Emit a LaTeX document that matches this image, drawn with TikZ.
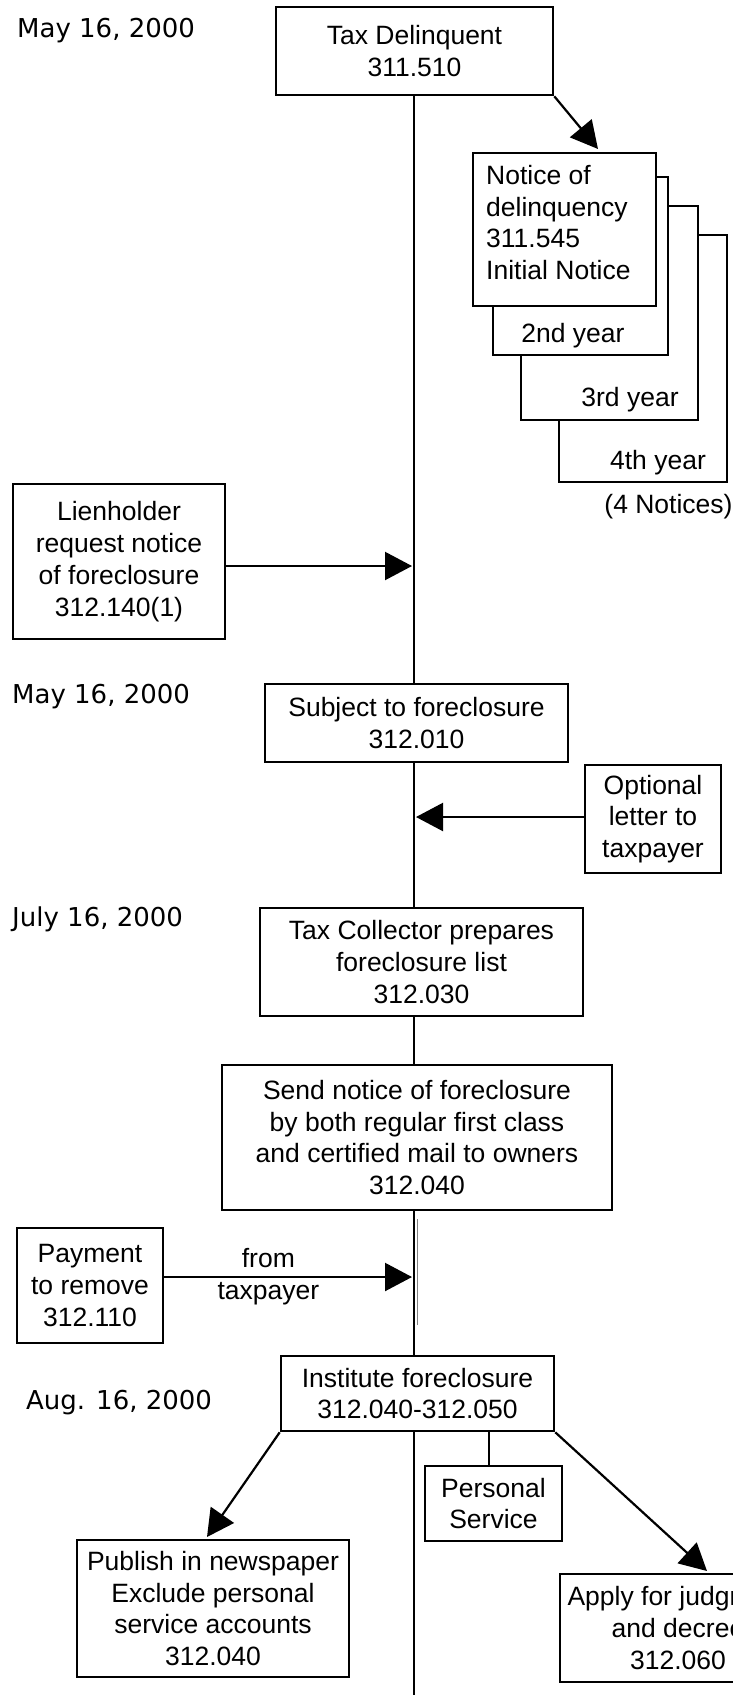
\documentclass[tikz,border=0pt]{standalone}
\usepackage{fontspec}
\setmainfont{Liberation Sans}
\newfontfamily\datefont{DejaVu Sans}
\usetikzlibrary{arrows.meta}
\begin{document}
\begin{tikzpicture}[x=1pt,y=-1pt,
  box/.style={draw, line width=2.6pt, fill=white, align=center, inner sep=0pt, font=\fontsize{26.5}{31.8}\selectfont},
  lbl/.style={align=center, inner sep=0pt, font=\fontsize{26.5}{31.8}\selectfont},
  datelbl/.style={anchor=base west, inner sep=0pt, font=\datefont\fontsize{26}{30}\selectfont},
  conn/.style={line width=2.2pt},
  arr/.style={line width=2.2pt, -{Triangle[length=27pt,width=28pt]}},
]
\useasboundingbox (0,0) rectangle (733,1695);
\fill[white] (0,0) rectangle (733,1695);

% dates
\node[datelbl] (d1) at (17,37) {May 16, 2000};
\node[datelbl] (d2) at (12,703) {May 16, 2000};
\node[datelbl] (d3) at (12,926) {July 16, 2000};
\node[datelbl] (d4) at (26,1409) {Aug. 16, 2000};

% main boxes
\node[box, minimum width=277pt, minimum height=88pt] (taxdel) at (414.5,51) {Tax Delinquent\\311.510};

\node[box, minimum width=168pt, minimum height=247pt] (n4) at (643,358.5) {};
\node[box, minimum width=177pt, minimum height=214pt] (n3) at (609.5,313) {};
\node[box, minimum width=175pt, minimum height=178pt] (n2) at (580.5,266) {};
\node[box, minimum width=183pt, minimum height=153pt] (n1) at (564.5,229.5) {};
\node[lbl, anchor=west, align=left] (n1t) at (486,222.5) {Notice of\\delinquency\\311.545\\Initial Notice};
\node[lbl] (n2t) at (573,336) {2nd year};
\node[lbl] (n3t) at (630,400) {3rd year};
\node[lbl] (n4t) at (658,463) {4th year};
\node[lbl] (notices) at (668.5,507) {(4 Notices)};

\node[box, minimum width=212pt, minimum height=155pt] (lien) at (119,561.5) {Lienholder\\request notice\\of foreclosure\\312.140(1)};
\node[box, minimum width=303pt, minimum height=78pt] (subj) at (416.5,723) {Subject to foreclosure\\312.010};
\node[box, minimum width=136pt, minimum height=108pt] (opt) at (653,819) {Optional\\letter to\\taxpayer};
\node[box, minimum width=323pt, minimum height=108pt] (taxcol) at (421.5,962) {Tax Collector prepares\\foreclosure list\\312.030};
\node[box, minimum width=390pt, minimum height=145pt] (send) at (417,1137.5) {Send notice of foreclosure\\by both regular first class\\and certified mail to owners\\312.040};
\node[box, minimum width=146pt, minimum height=115pt] (pay) at (90,1285.5) {Payment\\to remove\\312.110};
\node[box, minimum width=273pt, minimum height=75pt] (inst) at (417.5,1393.5) {Institute foreclosure\\312.040-312.050};
\node[box, minimum width=137pt, minimum height=75pt] (ps) at (493.5,1503.5) {Personal\\Service};
\node[box, minimum width=272pt, minimum height=137pt] (pub) at (213,1608.5) {Publish in newspaper\\Exclude personal\\service accounts\\312.040};
\node[box, minimum width=236pt, minimum height=108pt] (apply) at (678,1628) {Apply for judgment\\and decree\\312.060};

% spine
\coordinate (spine) at (414,0);
\coordinate (bottom) at (414,1695);
\draw[conn] (spine |- taxdel.south) -- (spine |- subj.north);
\draw[conn] (spine |- subj.south) -- (spine |- taxcol.north);
\draw[conn] (spine |- taxcol.south) -- (spine |- send.north);
\draw[conn] (spine |- send.south) -- (spine |- inst.north);
\draw[conn] (spine |- inst.south) -- (bottom);

% thin parallel line
\coordinate (thinA) at (417,1219);
\coordinate (thinB) at (417,1325);
\draw[line width=1pt, gray] (thinA) -- (thinB);

% arrows
\coordinate (n1tip) at (598,149);
\draw[arr] (taxdel.south east) -- (n1tip);

\coordinate (lienin) at (412,566);
\draw[arr] (lien.east |- lienin) -- (lienin);

\coordinate (optin) at (416,817);
\draw[arr] (opt.west |- optin) -- (optin);

\coordinate (payin) at (412,1277);
\draw[arr] (pay.east |- payin) -- (payin) node[lbl, pos=0.42] {from\\taxpayer};

\coordinate (psx) at (489,0);
\draw[conn] (psx |- inst.south) -- (psx |- ps.north);

\coordinate (pubtip) at (207,1537);
\draw[arr] (inst.south west) -- (pubtip);

\coordinate (aptip) at (707,1571);
\draw[arr] (inst.south east) -- (aptip);
\end{tikzpicture}
\end{document}
